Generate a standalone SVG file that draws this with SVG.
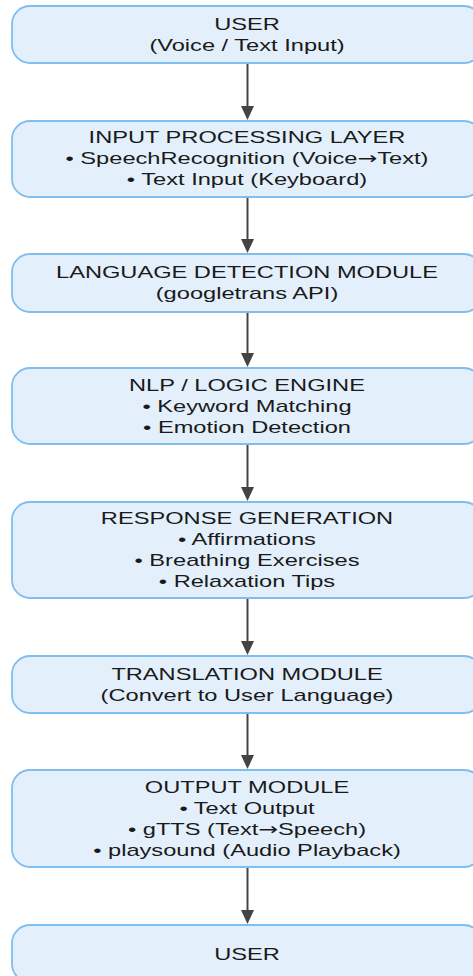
<svg xmlns="http://www.w3.org/2000/svg" width="473" height="976" viewBox="0 0 473 976">
<style>
.box{fill:#e3f0fc;stroke:#80bef0;stroke-width:1.8}
.t{font-family:"Liberation Sans",Arial,sans-serif;font-size:17px;fill:#1a1a1a;text-anchor:middle}
.arr{font-family:"DejaVu Sans",sans-serif}
.edge{stroke:#444;stroke-width:2;fill:none}
.head{fill:#444}
</style>
<rect width="473" height="976" fill="#ffffff"/>
<g id="connectors">
<line class="edge" x1="247.5" y1="64" x2="247.5" y2="108"/><polygon class="head" points="241,106 254,106 247.5,120"/>
<line class="edge" x1="247.5" y1="197" x2="247.5" y2="242"/><polygon class="head" points="241,239 254,239 247.5,253"/>
<line class="edge" x1="247.5" y1="312" x2="247.5" y2="356"/><polygon class="head" points="241,353 254,353 247.5,367"/>
<line class="edge" x1="247.5" y1="444" x2="247.5" y2="490"/><polygon class="head" points="241,487 254,487 247.5,501"/>
<line class="edge" x1="247.5" y1="598" x2="247.5" y2="644"/><polygon class="head" points="241,641 254,641 247.5,655"/>
<line class="edge" x1="247.5" y1="713" x2="247.5" y2="758"/><polygon class="head" points="241,755 254,755 247.5,769"/>
<line class="edge" x1="247.5" y1="867" x2="247.5" y2="913"/><polygon class="head" points="241,910 254,910 247.5,924"/>
</g>
<g id="user-in">
<rect class="box" x="12" y="6" width="470" height="57" rx="18"/>
<g transform="translate(247 0) scale(1.39 1)"><text class="t" x="0" y="30">USER</text><text class="t" x="0" y="51">(Voice / Text Input)</text></g>
</g>
<g id="input-processing">
<rect class="box" x="12" y="121" width="470" height="76" rx="18"/>
<g transform="translate(247 0) scale(1.39 1)"><text class="t" x="0" y="143">INPUT PROCESSING LAYER</text><text class="t" x="0" y="164">• SpeechRecognition (Voice<tspan class="arr">→</tspan>Text)</text><text class="t" x="0" y="185">• Text Input (Keyboard)</text></g>
</g>
<g id="language-detection">
<rect class="box" x="12" y="254" width="470" height="58" rx="18"/>
<g transform="translate(247 0) scale(1.39 1)"><text class="t" x="0" y="278">LANGUAGE DETECTION MODULE</text><text class="t" x="0" y="299">(googletrans API)</text></g>
</g>
<g id="nlp-engine">
<rect class="box" x="12" y="368" width="470" height="76" rx="18"/>
<g transform="translate(247 0) scale(1.39 1)"><text class="t" x="0" y="391">NLP / LOGIC ENGINE</text><text class="t" x="0" y="412">• Keyword Matching</text><text class="t" x="0" y="433">• Emotion Detection</text></g>
</g>
<g id="response-generation">
<rect class="box" x="12" y="502" width="470" height="96" rx="18"/>
<g transform="translate(247 0) scale(1.39 1)"><text class="t" x="0" y="524">RESPONSE GENERATION</text><text class="t" x="0" y="545">• Affirmations</text><text class="t" x="0" y="566">• Breathing Exercises</text><text class="t" x="0" y="587">• Relaxation Tips</text></g>
</g>
<g id="translation">
<rect class="box" x="12" y="656" width="470" height="57" rx="18"/>
<g transform="translate(247 0) scale(1.39 1)"><text class="t" x="0" y="680">TRANSLATION MODULE</text><text class="t" x="0" y="701">(Convert to User Language)</text></g>
</g>
<g id="output-module">
<rect class="box" x="12" y="770" width="470" height="97" rx="18"/>
<g transform="translate(247 0) scale(1.39 1)"><text class="t" x="0" y="793">OUTPUT MODULE</text><text class="t" x="0" y="814">• Text Output</text><text class="t" x="0" y="835">• gTTS (Text<tspan class="arr">→</tspan>Speech)</text><text class="t" x="0" y="856">• playsound (Audio Playback)</text></g>
</g>
<g id="user-out">
<rect class="box" x="12" y="925" width="470" height="57" rx="18"/>
<g transform="translate(247 0) scale(1.39 1)"><text class="t" x="0" y="960">USER</text></g>
</g>
</svg>
